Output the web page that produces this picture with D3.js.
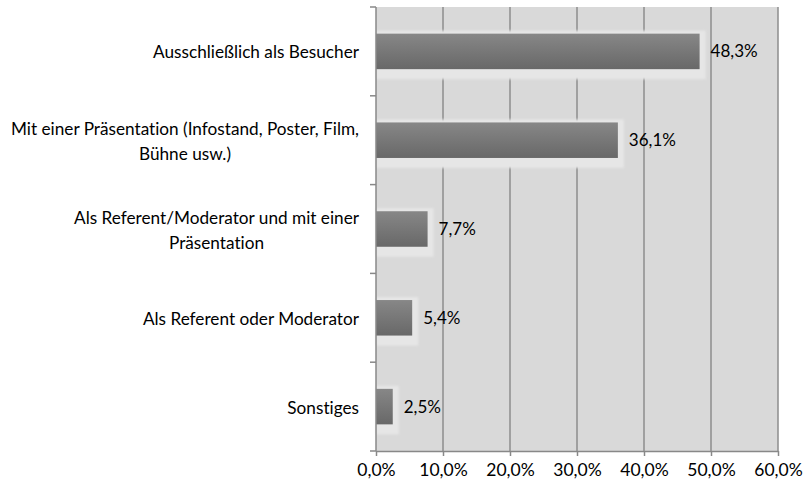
<!DOCTYPE html>
<html>
<head>
<meta charset="utf-8">
<script src="https://cdn.jsdelivr.net/npm/d3@7"></script>
<style>
  html, body { margin: 0; padding: 0; background: #fff; }
  svg { display: block; }
  text { font-family: Lato, "Open Sans", sans-serif; fill: #000; font-variant-ligatures: none; }
</style>
</head>
<body>
<svg id="chart" width="804" height="486"></svg>
<script>
// Participation type (share of respondents)
const categories = [
  ["Ausschließlich als Besucher"],
  ["Mit einer Präsentation (Infostand, Poster, Film,", "Bühne usw.)"],
  ["Als Referent/Moderator und mit einer", "Präsentation"],
  ["Als Referent oder Moderator"],
  ["Sonstiges"]
];
const values = [48.3, 36.1, 7.7, 5.4, 2.5];
const xTicks = [0, 10, 20, 30, 40, 50, 60];

const fmt = v => v.toFixed(1).replace(".", ",") + "%";

const svg = d3.select("#chart");
const m = { left: 376, right: 778, top: 7, bottom: 451 };

const x = d3.scaleLinear().domain([0, 60]).range([m.left, m.right]);
const y = d3.scaleBand().domain(d3.range(categories.length))
  .range([m.top, m.bottom]).paddingInner(0.6).paddingOuter(0.3);
const yBand = d3.scaleBand().domain(d3.range(categories.length))
  .range([m.top, m.bottom]);

const defs = svg.append("defs");
const grad = defs.append("linearGradient").attr("id", "barGrad")
  .attr("x1", 0).attr("y1", 0).attr("x2", 0).attr("y2", 1);
grad.append("stop").attr("offset", "0%").attr("stop-color", "#878787");
grad.append("stop").attr("offset", "100%").attr("stop-color", "#686868");
defs.append("filter").attr("id", "soft").attr("x", "-10%").attr("y", "-50%")
  .attr("width", "120%").attr("height", "200%")
  .append("feGaussianBlur").attr("stdDeviation", 0.8);

// plot area
svg.append("rect")
  .attr("x", m.left).attr("y", m.top)
  .attr("width", m.right - m.left).attr("height", m.bottom - m.top)
  .attr("fill", "#d9d9d9");

// vertical gridlines
svg.append("g").selectAll("line").data(xTicks.slice(1)).join("line")
  .attr("x1", d => x(d)).attr("x2", d => x(d))
  .attr("y1", m.top).attr("y2", m.bottom)
  .attr("stroke", "#8c8c8c").attr("stroke-width", 1.5);

// bars with light halo
const bars = svg.append("g").selectAll("g").data(values).join("g");
bars.append("rect")
  .attr("x", m.left)
  .attr("y", (d, i) => y(i) - 3)
  .attr("width", d => x(d) - m.left + 6)
  .attr("height", y.bandwidth() + 13)
  .attr("fill", "#e6e6e6")
  .attr("filter", "url(#soft)");
bars.append("rect")
  .attr("x", m.left)
  .attr("y", (d, i) => y(i))
  .attr("width", d => x(d) - m.left)
  .attr("height", y.bandwidth())
  .attr("fill", "url(#barGrad)");

// value labels
bars.append("text")
  .attr("x", d => x(d) + 11)
  .attr("y", (d, i) => y(i) + y.bandwidth() / 2)
  .attr("dy", "0.35em")
  .attr("font-size", 17)
  .text(d => fmt(d));

// x axis
const xAxis = d3.axisBottom(x).tickValues(xTicks).tickFormat(fmt)
  .tickSize(5).tickSizeOuter(0);
const gx = svg.append("g").attr("transform", `translate(0,${m.bottom})`).call(xAxis);
gx.select(".domain").attr("stroke", "#888").attr("stroke-width", 1.5);
gx.selectAll(".tick line").attr("stroke", "#888").attr("stroke-width", 1.5);
gx.selectAll(".tick text").attr("font-size", 17.5).attr("font-family", "Lato, sans-serif")
  .attr("fill", "#000").attr("y", 13).attr("dy", "0.71em");

// y axis: ticks at band boundaries
const yEdges = d3.range(categories.length + 1).map(i => m.top + i * yBand.step());
svg.append("line").attr("x1", m.left).attr("x2", m.left)
  .attr("y1", m.top).attr("y2", m.bottom)
  .attr("stroke", "#888").attr("stroke-width", 1.5);
svg.append("g").selectAll("line").data(yEdges).join("line")
  .attr("x1", m.left - 6).attr("x2", m.left)
  .attr("y1", d => d).attr("y2", d => d)
  .attr("stroke", "#888").attr("stroke-width", 1.5);

// category labels, wrapped lines centred within a right-aligned block
const lineH = 25;
const labels = svg.append("g").selectAll("text").data(categories).join("text")
  .attr("font-size", 17.2);
labels.each(function(lines, i) {
  const t = d3.select(this);
  const cy = yBand(i) + yBand.bandwidth() / 2 + 1;
  const spans = t.selectAll("tspan").data(lines).join("tspan")
    .attr("y", (d, k) => cy + (k - (lines.length - 1) / 2) * lineH)
    .attr("dy", "0.35em")
    .text(d => d);
  const widths = spans.nodes().map(n => n.getComputedTextLength());
  const wMax = d3.max(widths);
  const center = 359 - wMax / 2;
  spans.attr("x", center).attr("text-anchor", "middle");
});
</script>
</body>
</html>
